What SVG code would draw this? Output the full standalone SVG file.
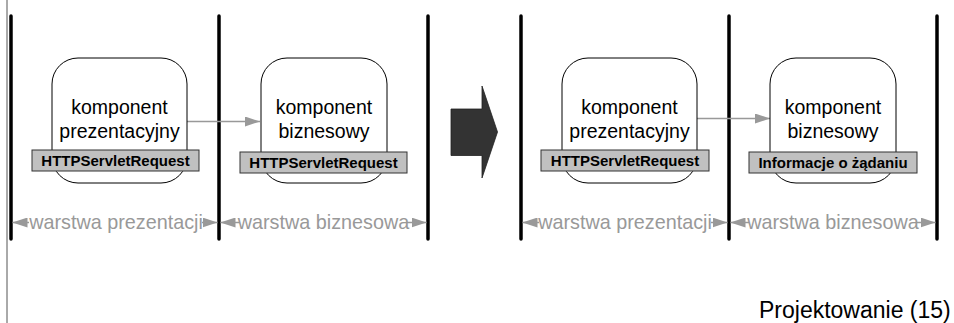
<svg xmlns="http://www.w3.org/2000/svg" width="954" height="323" viewBox="0 0 954 323">
<defs>
<marker id="ah" viewBox="0 0 15 10" refX="15" refY="5" markerWidth="15" markerHeight="10" markerUnits="userSpaceOnUse" orient="auto-start-reverse">
<path d="M0,0 L15,5 L0,10 Z" fill="#999"/>
</marker>
<style>
.sep{stroke:#000;stroke-width:3.5;stroke-linecap:round}
.box{fill:#fff;stroke:#000;stroke-width:1}
.bar{fill:#c0c0c0;stroke:#333;stroke-width:1}
.t{font-family:"Liberation Sans",Arial,sans-serif;font-size:19.5px;fill:#000;text-anchor:middle}
.b{font-family:"Liberation Sans",Arial,sans-serif;font-size:15px;font-weight:bold;fill:#000;text-anchor:middle}
.d{font-family:"Liberation Sans",Arial,sans-serif;font-size:19.8px;fill:#999;text-anchor:middle}
.dl{stroke:#999;stroke-width:1.5;fill:none}
.cn{stroke:#999;stroke-width:1.5;fill:none}
</style>
</defs>
<rect width="954" height="323" fill="#fff"/>
<line x1="7" y1="0" x2="7" y2="323" stroke="#555" stroke-width="1"/>

<g id="separators">
<line class="sep" x1="11" y1="16" x2="11" y2="239"/>
<line class="sep" x1="219" y1="16" x2="219" y2="239"/>
<line class="sep" x1="428" y1="16" x2="428" y2="239"/>
<line class="sep" x1="521" y1="16" x2="521" y2="239"/>
<line class="sep" x1="729" y1="16" x2="729" y2="239"/>
<line class="sep" x1="937" y1="16" x2="937" y2="239"/>
</g>

<g id="connectors">
<line class="cn" x1="187" y1="121.5" x2="260" y2="121.5" marker-end="url(#ah)"/>
<line class="cn" x1="697" y1="118.5" x2="770" y2="118.5" marker-end="url(#ah)"/>
</g>

<g id="node-pres1">
<rect class="box" x="52" y="58" width="135" height="125" rx="26" ry="26"/>
<text class="t" x="119.5" y="114">komponent</text>
<text class="t" x="119.5" y="138">prezentacyjny</text>
<rect class="bar" x="32" y="150" width="167" height="21"/>
<text class="b" x="115.5" y="165.5">HTTPServletRequest</text>
</g>

<g id="node-biz1">
<rect class="box" x="261" y="58" width="126" height="125" rx="26" ry="26"/>
<text class="t" x="324" y="114">komponent</text>
<text class="t" x="324" y="138">biznesowy</text>
<rect class="bar" x="240" y="152" width="167" height="21"/>
<text class="b" x="323.5" y="167.5">HTTPServletRequest</text>
</g>

<g id="node-pres2">
<rect class="box" x="562" y="58" width="135" height="125" rx="26" ry="26"/>
<text class="t" x="629.5" y="114">komponent</text>
<text class="t" x="629.5" y="138">prezentacyjny</text>
<rect class="bar" x="541" y="150" width="168" height="21"/>
<text class="b" x="625" y="165.5">HTTPServletRequest</text>
</g>

<g id="node-biz2">
<rect class="box" x="770" y="58" width="126" height="125" rx="26" ry="26"/>
<text class="t" x="833" y="114">komponent</text>
<text class="t" x="833" y="138">biznesowy</text>
<rect class="bar" x="749" y="152" width="168" height="21"/>
<text class="b" x="833" y="167.5">Informacje o żądaniu</text>
</g>

<g id="big-arrow">
<path d="M451,109 L482,109 L482,86 L497.5,132 L482,178 L482,155.5 L451,155.5 Z" fill="#333" stroke="#222" stroke-width="0.8"/>
</g>

<g id="dimensions">
<line class="dl" x1="29" y1="222.5" x2="12.5" y2="222.5" marker-end="url(#ah)"/>
<line class="dl" x1="202" y1="222.5" x2="217.5" y2="222.5" marker-end="url(#ah)"/>
<text class="d" x="116" y="228.5">warstwa prezentacji</text>
<line class="dl" x1="240" y1="222.5" x2="220.5" y2="222.5" marker-end="url(#ah)"/>
<line class="dl" x1="407" y1="222.5" x2="426.5" y2="222.5" marker-end="url(#ah)"/>
<text class="d" x="323.5" y="228.5">warstwa biznesowa</text>
<line class="dl" x1="539" y1="222.5" x2="522.5" y2="222.5" marker-end="url(#ah)"/>
<line class="dl" x1="711" y1="222.5" x2="727.5" y2="222.5" marker-end="url(#ah)"/>
<text class="d" x="625" y="228.5">warstwa prezentacji</text>
<line class="dl" x1="749" y1="222.5" x2="730.5" y2="222.5" marker-end="url(#ah)"/>
<line class="dl" x1="916" y1="222.5" x2="935.5" y2="222.5" marker-end="url(#ah)"/>
<text class="d" x="833" y="228.5">warstwa biznesowa</text>
</g>

<text x="759" y="318" font-family="&quot;Liberation Sans&quot;,Arial,sans-serif" font-size="23px" fill="#000">Projektowanie (15)</text>
</svg>
